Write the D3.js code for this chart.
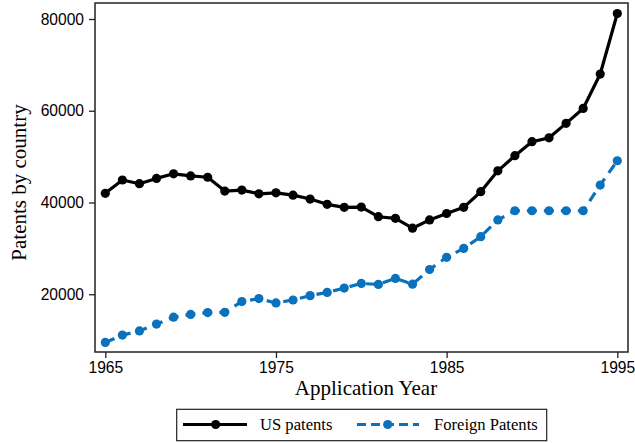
<!DOCTYPE html>
<html><head><meta charset="utf-8">
<script src="https://cdn.jsdelivr.net/npm/d3@7"></script>
<style>body{margin:0;background:#fff}</style>
</head><body><svg id="c" width="635" height="443"></svg>
<script>
const years = d3.range(1965, 1996);
const usPatents = [42000,44900,44100,45250,46250,45800,45500,42500,42700,41900,42100,41600,40750,39600,38950,39000,36900,36550,34400,36200,37600,38950,42350,46900,50200,53250,54100,57250,60500,68000,81200];
const foreignPatents = [9500,11100,12000,13500,15000,15600,16000,16050,18400,19050,18100,18750,19700,20400,21350,22350,22150,23450,22200,25400,28050,30000,32550,36200,38200,38200,38200,38200,38200,43800,49100];
const xTicks = [1965,1975,1985,1995];
const yTicks = [20000,40000,60000,80000];
const seriesNames = ["US patents","Foreign Patents"];

const svg = d3.select("#c");
const L=95,R=628,T=3,B=352;
const x = d3.scaleLinear().domain([1965,1995]).range([105.3,617.3]);
const y = d3.scaleLinear().domain([0,80000]).range([386,19]);
const blue = "#0a72bd";

svg.append("rect").attr("x",L).attr("y",T).attr("width",R-L).attr("height",B-T)
  .attr("fill","none").attr("stroke","#222").attr("stroke-width",1.5);

const xa = svg.append("g").attr("transform",`translate(0,${B})`)
  .call(d3.axisBottom(x).tickValues(xTicks).tickFormat(d3.format("d")).tickSize(6).tickPadding(4));
const ya = svg.append("g").attr("transform",`translate(${L},0)`)
  .call(d3.axisLeft(y).tickValues(yTicks).tickFormat(d3.format("d")).tickSize(6).tickPadding(5));
[xa,ya].forEach(a=>{
  a.select(".domain").remove();
  a.selectAll("line").attr("stroke","#222").attr("stroke-width",1.3);
  a.selectAll("text").attr("font-family","'Liberation Sans',Arial,sans-serif").attr("font-size","15.6px").attr("fill","#000");
});

const line = d3.line().x((d,i)=>x(years[i])).y(d=>y(d));
svg.append("path").datum(foreignPatents).attr("d",line).attr("fill","none")
  .attr("stroke",blue).attr("stroke-width",3.2).attr("stroke-dasharray","10,7");
svg.append("g").selectAll("circle").data(foreignPatents).join("circle")
  .attr("cx",(d,i)=>x(years[i])).attr("cy",d=>y(d)).attr("r",4.6).attr("fill",blue);
svg.append("path").datum(usPatents).attr("d",line).attr("fill","none")
  .attr("stroke","#000").attr("stroke-width",3.2).attr("stroke-linejoin","round");
svg.append("g").selectAll("circle").data(usPatents).join("circle")
  .attr("cx",(d,i)=>x(years[i])).attr("cy",d=>y(d)).attr("r",4.6).attr("fill","#000");

svg.append("text").attr("x",366).attr("y",395).attr("text-anchor","middle")
  .attr("font-family","'Liberation Serif','Times New Roman',serif").attr("font-size","21px").text("Application Year");
svg.append("text").attr("transform","translate(26,182.5) rotate(-90)").attr("text-anchor","middle")
  .attr("font-family","'Liberation Serif','Times New Roman',serif").attr("font-size","21px").text("Patents by country");

// legend
const lg = svg.append("g");
lg.append("rect").attr("x",176.7).attr("y",409.3).attr("width",370).attr("height",31.4)
  .attr("fill","#fff").attr("stroke","#222").attr("stroke-width",1.2);
const items = [
  {x1:183,x2:247,mx:215.7,tx:260,color:"#000",dash:null},
  {x1:357,x2:419,mx:387.7,tx:434,color:blue,dash:"9,5"}
];
items.forEach((it,i)=>{
  lg.append("line").attr("x1",it.x1).attr("x2",it.x2).attr("y1",424.5).attr("y2",424.5)
    .attr("stroke",it.color).attr("stroke-width",3.2).attr("stroke-dasharray",it.dash);
  lg.append("circle").attr("cx",it.mx).attr("cy",424.5).attr("r",4.6).attr("fill",it.color);
  lg.append("text").attr("x",it.tx).attr("y",430).attr("font-family","'Liberation Serif','Times New Roman',serif")
    .attr("font-size","16.6px").text(seriesNames[i]);
});
</script></body></html>
